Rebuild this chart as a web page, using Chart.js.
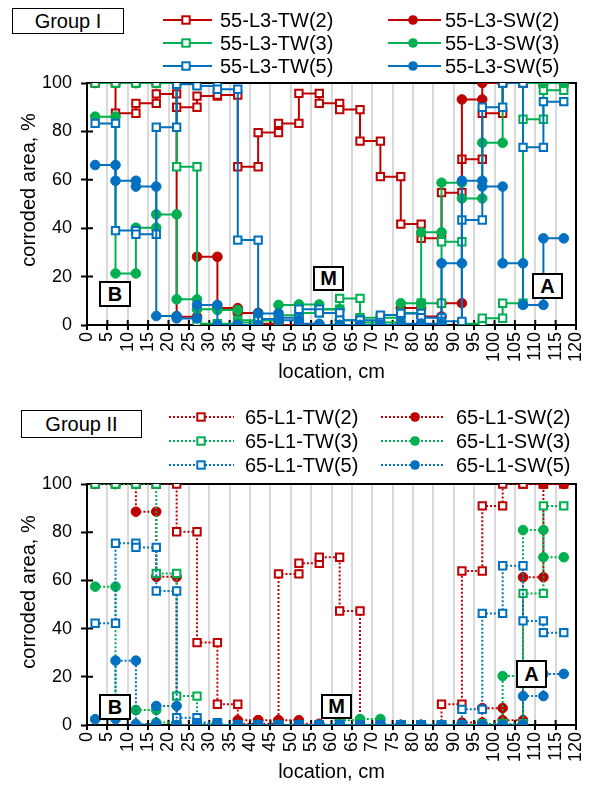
<!DOCTYPE html>
<html><head><meta charset="utf-8">
<script src="https://cdn.jsdelivr.net/npm/chart.js@4.4.1/dist/chart.umd.min.js"></script>
<style>
body{margin:0;background:#fff;width:593px;height:788px;position:relative;overflow:hidden;font-family:"Liberation Sans",Arial,sans-serif;color:#000}
canvas{position:absolute;left:0}
#c1{top:0}
#c2{top:395px}
.grp{position:absolute;border:1.5px solid #000;font-size:20px;text-align:center;background:#fff;box-sizing:border-box;display:flex;align-items:center;justify-content:center}
.legtxt{position:absolute;font-size:20px;white-space:nowrap;line-height:1;transform:translateY(-50%)}
.lbl{position:absolute;border:2px solid #000;font-weight:bold;font-size:20px;background:#fff;box-sizing:border-box;display:flex;align-items:center;justify-content:center}
.ytitle{position:absolute;font-size:20px;white-space:nowrap;transform:translate(-50%,-50%) rotate(-90deg);line-height:1}
</style>
</head><body>
<canvas id="c1" width="593" height="395"></canvas>
<canvas id="c2" width="593" height="393"></canvas>
<div id="overlay"></div>
<script>
// ---------- data ----------
const xBreaks = [2,7,12,17,22,27,32,37,42,47,52,57,62,67,72,77,82,87,92,97,102,107,112,117];
const xTicks = [0,5,10,15,20,25,30,35,40,45,50,55,60,65,70,75,80,85,90,95,100,105,110,115,120];
const yTicks = [0,20,40,60,80,100];

const g1Names = ['55-L3-TW(2)','55-L3-TW(3)','55-L3-TW(5)','55-L3-SW(2)','55-L3-SW(3)','55-L3-SW(5)'];
const g1TW2 = [100,87.5,91.6,95.5,90,94.6,95,65.4,79.5,83.3,95.7,91.6,89,76,61.3,41.7,35.8,54.7,68.5,87.5,100,100,100];
const g1TW3 = [100,100,100,100,65.4,0.5,0.5,2,2,4,5,6.5,11,3,3,5,9,34.4,0.5,2.8,9,85,97];
const g1TW5 = [83.3,39,37.5,81.7,99.5,98.8,97.4,35.1,2.5,3,6.5,5,2,2,4.1,4.8,3,1.5,43.4,90,100,73.4,92.3];
const g1SW2 = [100,100,100,100,3.4,28.2,7,5,0.5,0,0,0,0,0,0,7,3.5,9,93.2,100,100,100,100];
const g1SW3 = [86.1,21.3,40.2,45.7,10.6,6.5,6.2,1,2,8.3,8.5,6.5,2,1,1,9,38.3,58.8,52.3,75.3,100,100,100];
const g1SW5 = [66.1,59.6,57.2,3.7,2.7,8.3,0,0,4.8,2,0.5,0,0,0,0,0.5,0.5,25.5,59.6,57.2,25.5,8.3,35.8];

const g2Names = ['65-L1-TW(2)','65-L1-TW(3)','65-L1-TW(5)','65-L1-SW(2)','65-L1-SW(3)','65-L1-SW(5)'];
const g2TW2 = [100,100,100,100,80.2,34.2,8.6,0.5,0.5,62.7,67.1,69.6,47.3,0,0,0,0,8.6,63.9,90.9,100,100,100];
const g2TW3 = [100,100,100,62.9,12,0.5,0,0,0,0,0,0,0,0,0,0,0,0,0,0.5,0.5,54.6,90.9];
const g2TW5 = [42.2,75.4,73.7,55.6,3,1,0,0,0,0,0,0,0,0,0,0,0,0,6.5,46.3,66.1,43.2,38.3];
const g2SW2 = [100,100,88.5,61.5,0,0,0,2,2,2,0.5,0,0,0,0,0,0,0,1,7,2,61.3,100];
const g2SW3 = [57.4,6.2,6.2,1,0,0,0,0,0,0,0,0,2,2.5,0,0,0,0,0,0,20.3,80.9,69.6];
const g2SW5 = [2.4,26.7,0.4,7.9,0,0,0,0,0,0,0,0,0,0,0,0,0,0,0,0,0,12,21.2];

// ---------- styling ----------
const RED='#C00000', GREEN='#00B050', BLUE='#0070C0';
const FONT='"Liberation Sans", Arial, sans-serif';

function buildPoints(vals){
  const pts=[];
  for(let i=0;i<vals.length;i++){
    pts.push({x:xBreaks[i],y:vals[i]});
    pts.push({x:xBreaks[i+1],y:vals[i]});
  }
  return pts;
}
function ds(label, vals, color, tw, dotted, order){
  return {
    label, data: buildPoints(vals), showLine:true, tension:0,
    borderColor:color, backgroundColor:color, borderWidth:2,
    borderDash: dotted?[2,2]:[],
    pointStyle: tw?'rect':'circle',
    pointRadius: tw?5.2:4.8,
    pointBackgroundColor: tw?'#fff':color,
    pointBorderColor: color,
    pointBorderWidth: tw?2:1,
    order
  };
}

const framePlugin = {
  id:'frame',
  beforeDatasetsDraw(chart){
    const {ctx, chartArea:a, scales:{x,y}} = chart;
    ctx.save();
    ctx.strokeStyle='#000'; ctx.lineWidth=2;
    ctx.strokeRect(a.left, a.top, a.right-a.left, a.bottom-a.top);
    ctx.beginPath();
    x.ticks.forEach(t=>{const p=x.getPixelForValue(t.value); ctx.moveTo(p,a.bottom); ctx.lineTo(p,a.bottom-5);});
    y.ticks.forEach(t=>{const p=y.getPixelForValue(t.value); ctx.moveTo(a.left,p); ctx.lineTo(a.left+6,p);});
    ctx.stroke();
    ctx.restore();
  }
};

function makeChart(id, sets, padTop, xHeight, titlePadBottom){
  return new Chart(document.getElementById(id), {
    type:'scatter',
    data:{datasets:sets},
    options:{
      responsive:false, animation:false, events:[],
      layout:{padding:{top:padTop,right:17,left:0,bottom:0}},
      plugins:{legend:{display:false},tooltip:{enabled:false}},
      scales:{
        x:{type:'linear',min:0,max:120,
          afterBuildTicks(s){s.ticks = xTicks.map(v=>({value:v}));},
          ticks:{autoSkip:false,minRotation:90,maxRotation:90,padding:2,color:'#000',font:{size:18,family:FONT}},
          grid:{color:'#d9d9d9',lineWidth:2,tickColor:'#000',tickLength:5,tickWidth:2},
          border:{color:'#000',width:2},
          title:{display:true,text:'location, cm',color:'#000',font:{size:20,family:FONT},padding:{top:0,bottom:titlePadBottom}},
          afterFit(s){s.height=xHeight; s.paddingLeft=0; s.paddingRight=0;}
        },
        y:{type:'linear',min:0,max:100,
          afterBuildTicks(s){s.ticks = yTicks.map(v=>({value:v}));},
          ticks:{padding:9,color:'#000',font:{size:18,family:FONT}},
          grid:{drawOnChartArea:false,tickColor:'#000',tickLength:6,tickWidth:2},
          border:{color:'#000',width:2},
          afterFit(s){s.width=87; s.paddingTop=0; s.paddingBottom=0;}
        }
      }
    },
    plugins:[framePlugin]
  });
}

makeChart('c1', [
  ds(g1Names[5], g1SW5, BLUE, false, false, 0),
  ds(g1Names[2], g1TW5, BLUE, true, false, 1),
  ds(g1Names[4], g1SW3, GREEN, false, false, 2),
  ds(g1Names[1], g1TW3, GREEN, true, false, 3),
  ds(g1Names[3], g1SW2, RED, false, false, 4),
  ds(g1Names[0], g1TW2, RED, true, false, 5)
], 83, 70, 11);

makeChart('c2', [
  ds(g2Names[5], g2SW5, BLUE, false, true, 0),
  ds(g2Names[2], g2TW5, BLUE, true, true, 1),
  ds(g2Names[4], g2SW3, GREEN, false, true, 2),
  ds(g2Names[1], g2TW3, GREEN, true, true, 3),
  ds(g2Names[3], g2SW2, RED, false, true, 4),
  ds(g2Names[0], g2TW2, RED, true, true, 5)
], 89, 63, 4);

// ---------- overlay (legends, labels) ----------
const ov = document.getElementById('overlay');
function add(html){ ov.insertAdjacentHTML('beforeend', html); }
function legendItem(name,color,tw,dotted,x0,x1,mx,tx,cy){
  const w=x1-x0, m=mx-x0;
  const line=`<line x1="0" y1="8" x2="${w}" y2="8" stroke="${color}" stroke-width="2" ${dotted?'stroke-dasharray="2,2"':''}/>`;
  const mark = tw ? `<rect x="${m-3.7}" y="4.3" width="7.4" height="7.4" fill="#fff" stroke="${color}" stroke-width="2"/>`
                  : `<circle cx="${m}" cy="8" r="4.8" fill="${color}"/>`;
  add(`<svg style="position:absolute;left:${x0}px;top:${cy-8}px" width="${w}" height="16">${line}${mark}</svg>`);
  add(`<div class="legtxt" style="left:${tx}px;top:${cy}px">${name}</div>`);
}
const colors=[RED,GREEN,BLUE];
const rows1=[20,43,66], rows2=[417,441,465];
for(let r=0;r<3;r++){
  legendItem(g1Names[r],colors[r],true,false,163,212,186,220,rows1[r]);
  legendItem(g1Names[r+3],colors[r],false,false,388,441,413,445,rows1[r]);
  legendItem(g2Names[r],colors[r],true,true,169,234,201,245,rows2[r]);
  legendItem(g2Names[r+3],colors[r],false,true,381,445,415,456,rows2[r]);
}
add(`<div class="grp" style="left:12px;top:8px;width:112px;height:26px">Group I</div>`);
add(`<div class="grp" style="left:21px;top:410px;width:121px;height:28px">Group II</div>`);
add(`<div class="ytitle" style="left:28px;top:190px">corroded area, %</div>`);
add(`<div class="ytitle" style="left:28px;top:592px">corroded area, %</div>`);
function lbl(t,l,tp,w,h){ add(`<div class="lbl" style="left:${l}px;top:${tp}px;width:${w}px;height:${h}px">${t}</div>`); }
lbl('B',99,281,32,26); lbl('M',313,266,31,25); lbl('A',532,273,31,26);
lbl('B',99,694,32,26); lbl('M',321,694,31,25); lbl('A',516,660,31,28);
</script>
</body></html>
